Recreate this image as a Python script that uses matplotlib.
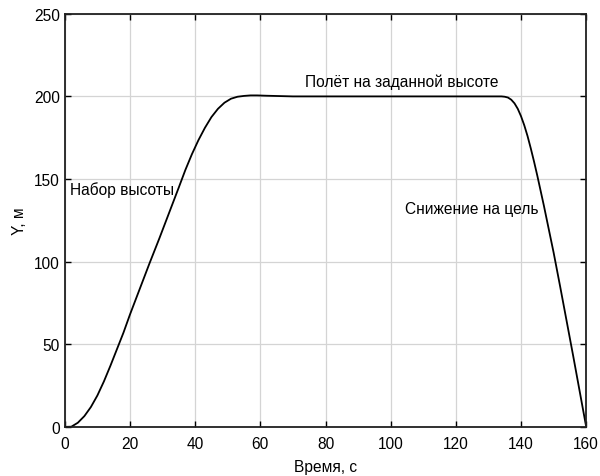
import numpy as np
import matplotlib
matplotlib.use('Agg')
import matplotlib.pyplot as plt


# font similar to Arial
plt.rcParams['font.family'] = ['Liberation Sans', 'DejaVu Sans']


# flight profile: time (s) and altitude (m)
time_s = [0, 2, 4, 6, 8, 10, 12, 14, 16, 18, 20, 23, 26, 29, 32, 35, 37, 39,
          41, 43, 45, 47, 49, 51, 53, 55, 57, 59, 62, 66, 70, 80, 100, 120, 134,
          135, 136, 137, 138, 139, 140, 141, 142, 143, 144, 145, 146, 147, 148,
          149, 150, 152, 154, 156, 158, 160]
altitude_m = [0, 0.1, 2.5, 6.5, 12, 19, 27.5, 37, 47, 57, 68, 83.5, 99, 114, 129.5, 145, 155.5, 165,
              173.5, 181, 187.5, 192.5, 196.2, 198.6, 199.8, 200.3, 200.6, 200.6, 200.4, 200.2, 200, 200, 200, 200, 200,
              199.8, 199.3, 198, 195.8, 192.5, 188, 182.5, 176, 168.5, 160.5, 152, 143, 134, 124.5,
              115, 105.5, 85, 64, 43, 21.5, 0]

# annotations for the flight phases
phase_labels = ['Набор высоты', 'Полёт на заданной высоте', 'Снижение на цель']
phase_x = [1.7, 73.8, 104.4]
phase_y = [144, 209, 132]

x_ticks = [0, 20, 40, 60, 80, 100, 120, 140, 160]
y_ticks = [0, 50, 100, 150, 200, 250]


fig = plt.figure(figsize=(6.0, 4.77), dpi=100)
ax = fig.add_axes([0.108, 0.103, 0.869, 0.866])

ax.plot(time_s, altitude_m, color='black', linewidth=1.3)

for label, x, y in zip(phase_labels, phase_x, phase_y):
    ax.text(x, y, label, fontsize=11.2, ha='left', va='center', color='black')

ax.set_xlim(0, 160)
ax.set_ylim(0, 250)
ax.set_xticks(x_ticks)
ax.set_yticks(y_ticks)
ax.grid(color='#d4d4d4', linewidth=0.9)
ax.set_axisbelow(True)

ax.tick_params(direction='in', top=True, right=True, labelsize=11.2,
               length=4, width=1.0)
ax.tick_params(axis='x', pad=6.5)
ax.tick_params(axis='y', pad=3.5)
for spine in ax.spines.values():
    spine.set_linewidth(1.3)
    spine.set_color('#202020')

ax.set_xlabel('Время, с', fontsize=11.2, labelpad=6)
ax.set_ylabel('Y, м', fontsize=11.2, labelpad=5)

plt.savefig('out.png', dpi=100)
